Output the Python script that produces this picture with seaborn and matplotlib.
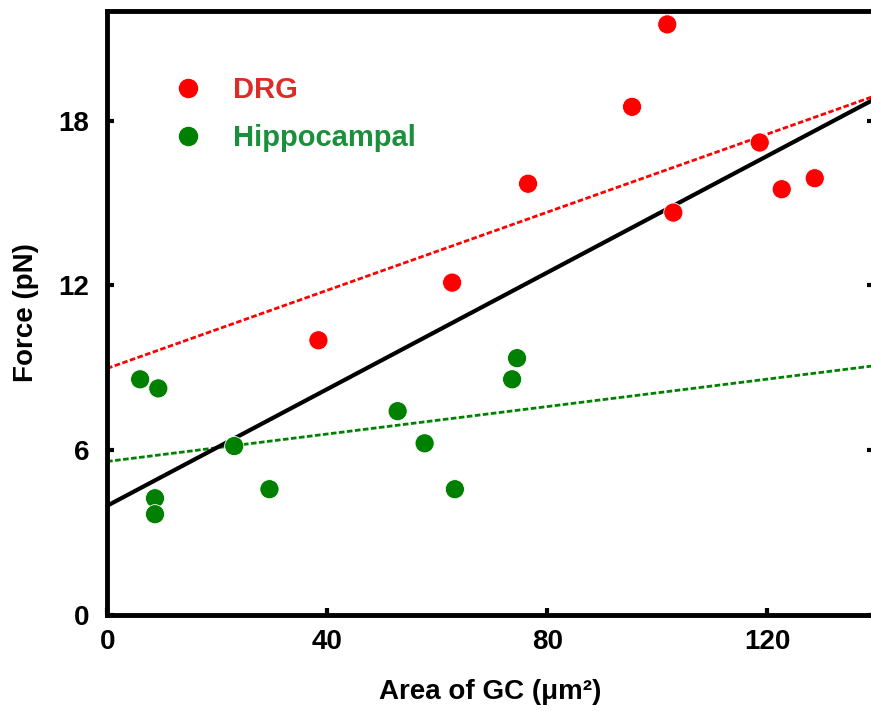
import matplotlib
matplotlib.use("Agg")
import matplotlib.pyplot as plt
import numpy as np
import pandas as pd
import seaborn as sns
from matplotlib.lines import Line2D


# Valeurs (aire du cône de croissance, force)
DRG_AREA = [38.4, 62.7, 76.5, 95.4, 101.8, 102.9, 118.6, 122.6, 128.6]
DRG_FORCE = [10.0, 12.1, 15.7, 18.5, 21.5, 14.65, 17.2, 15.5, 15.9]

HIPPO_AREA = [6.0, 9.3, 8.7, 8.7, 23.1, 29.5, 52.8, 57.7, 63.2, 73.6, 74.5]
HIPPO_FORCE = [8.58, 8.25, 4.25, 3.67, 6.15, 4.58, 7.42, 6.25, 4.58, 8.58, 9.35]

X_TICKS = [0, 40, 80, 120]
Y_TICKS = [0, 6, 12, 18]
X_MAX = 139.3
Y_MAX = 22

RED = "#ff0000"
GREEN = "#008000"


def main() -> None:
    sns.set_style("white")
    plt.rcParams["font.family"] = ["Liberation Sans", "DejaVu Sans"]
    plt.rcParams["text.color"] = "black"
    plt.rcParams["axes.labelcolor"] = "black"
    plt.rcParams["xtick.color"] = "black"
    plt.rcParams["ytick.color"] = "black"

    df = pd.DataFrame(
        {
            "area": DRG_AREA + HIPPO_AREA,
            "force": DRG_FORCE + HIPPO_FORCE,
            "type": ["DRG"] * len(DRG_AREA) + ["Hippocampal"] * len(HIPPO_AREA),
        }
    )

    fig = plt.figure(figsize=(8.71, 7.11), dpi=100)
    ax = fig.add_axes([0.123, 0.135, 0.880, 0.850])

    # droites de régression : DRG, hippocampe, toutes les données
    xs = np.array([0, X_MAX])
    fits = [
        (df[df["type"] == "DRG"], RED, "--"),
        (df[df["type"] == "Hippocampal"], GREEN, "--"),
        (df, "black", "-"),
    ]
    for sub, color, ls in fits:
        slope, intercept = np.polyfit(sub["area"], sub["force"], 1)
        ax.plot(xs, intercept + slope * xs, color=color, ls=ls,
                lw=2.0 if ls == "--" else 3.0,
                dashes=(2.0, 0.9) if ls == "--" else (None, None),
                zorder=2)

    sns.scatterplot(
        data=df, x="area", y="force", hue="type",
        palette={"DRG": RED, "Hippocampal": GREEN},
        s=190, edgecolor="white", linewidth=0.6, legend=False,
        ax=ax, zorder=3,
    )

    ax.set_xlim(0, X_MAX)
    ax.set_ylim(0, Y_MAX)
    ax.set_xticks(X_TICKS)
    ax.set_yticks(Y_TICKS)
    ax.tick_params(axis="both", direction="in", length=5, width=3,
                   labelsize=20, colors="black",
                   right=True, left=True, bottom=True)
    ax.tick_params(axis="x", pad=10)
    ax.tick_params(axis="y", pad=13)
    for lab in ax.get_xticklabels() + ax.get_yticklabels():
        lab.set_fontweight("bold")

    for side in ["left", "bottom", "top", "right"]:
        ax.spines[side].set_linewidth(3.5)
        ax.spines[side].set_color("black")

    ax.set_xlabel("Area of GC (\u03bcm\u00b2)", fontsize=20,
                  fontweight="bold", labelpad=17, color="black")
    ax.set_ylabel("Force (pN)", fontsize=20, fontweight="bold",
                  labelpad=14, color="black")

    handles = [
        Line2D([], [], ls="", marker="o", markersize=13, color=RED),
        Line2D([], [], ls="", marker="o", markersize=13, color=GREEN),
    ]
    leg = ax.legend(
        handles, ["DRG", "Hippocampal"],
        loc="upper left", bbox_to_anchor=(0.052, 0.935),
        frameon=False, handlelength=1.0, handletextpad=1.05,
        labelspacing=0.67,
        prop={"size": 21, "weight": "bold"},
    )
    for text, color in zip(leg.get_texts(), ["#dd2b27", "#1a8f3c"]):
        text.set_color(color)

    fig.savefig("out.png", dpi=100)
    plt.close(fig)


if __name__ == "__main__":
    main()
